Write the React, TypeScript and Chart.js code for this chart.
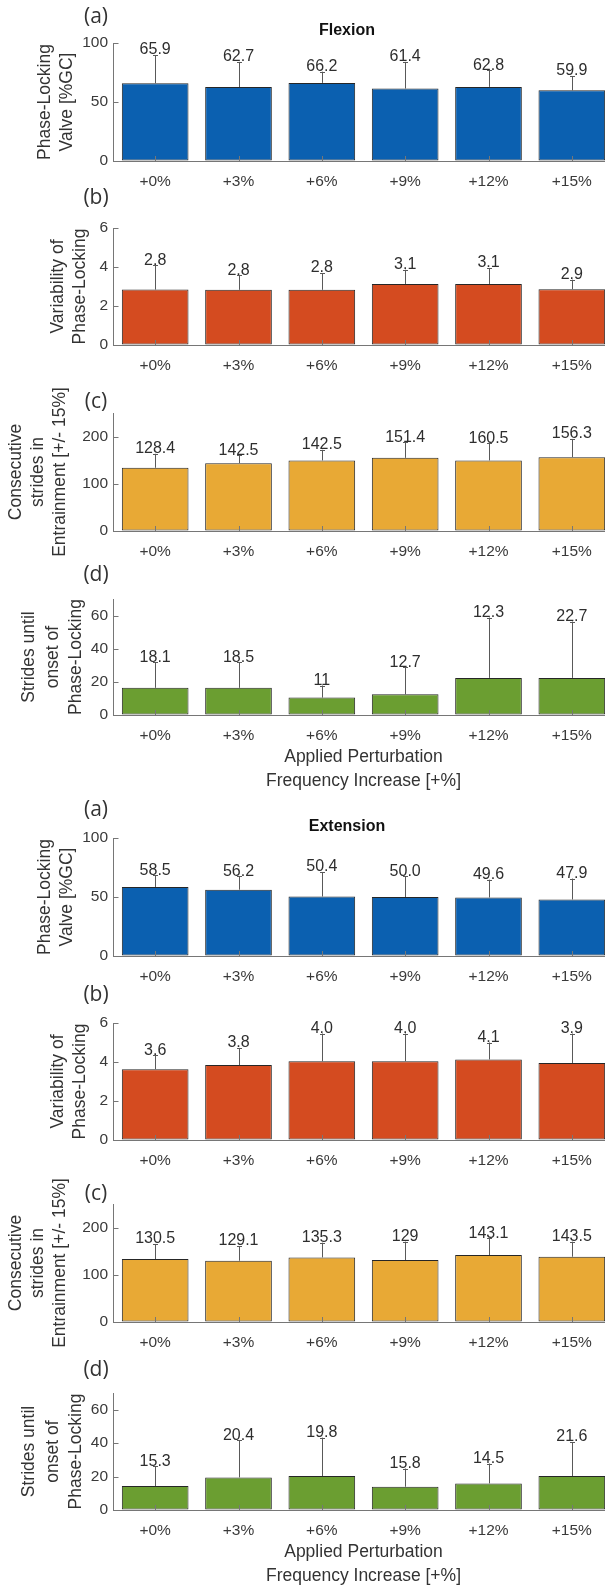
import React, { useEffect, useRef } from "react";
import { Chart, registerables } from "chart.js";

Chart.register(...registerables);

// ---------- data ----------
const categories = ["+0%", "+3%", "+6%", "+9%", "+12%", "+15%"];

// Flexion
const flexPhaseMean = [65.9, 62.7, 66.2, 61.4, 62.8, 59.9];
const flexPhaseSd = [23.9, 21.3, 9.5, 22.6, 14.2, 12.1];
const flexPhaseLabels = ["65.9", "62.7", "66.2", "61.4", "62.8", "59.9"];

const flexVarMean = [2.84, 2.83, 2.83, 3.13, 3.13, 2.86];
const flexVarSd = [1.25, 0.74, 0.86, 0.73, 0.82, 0.49];
const flexVarLabels = ["2.8", "2.8", "2.8", "3.1", "3.1", "2.9"];

const flexStridesMean = [134, 143.8, 149.5, 155, 149.5, 156.5];
const flexStridesSd = [29.5, 16.2, 22.5, 33.0, 36.5, 38.5];
const flexStridesLabels = ["128.4", "142.5", "142.5", "151.4", "160.5", "156.3"];

const flexOnsetMean = [16.4, 16.4, 10.5, 12.5, 22.4, 22.4];
const flexOnsetSd = [15.3, 15.3, 7.3, 16.2, 36.4, 34.0];
const flexOnsetLabels = ["18.1", "18.5", "11", "12.7", "12.3", "22.7"];

// Extension
const extPhaseMean = [58.5, 56.2, 50.4, 50.0, 49.6, 47.9];
const extPhaseSd = [9.9, 11.3, 20.8, 17.5, 15.1, 17.7];
const extPhaseLabels = ["58.5", "56.2", "50.4", "50.0", "49.6", "47.9"];

const extVarMean = [3.63, 3.84, 4.04, 4.04, 4.13, 3.95];
const extVarSd = [0.72, 0.88, 1.42, 1.42, 0.87, 1.51];
const extVarLabels = ["3.6", "3.8", "4.0", "4.0", "4.1", "3.9"];

const extStridesMean = [133.4, 129.8, 136.8, 131.3, 141.9, 138.3];
const extStridesSd = [31.9, 31.2, 31.2, 38.9, 35.3, 31.9];
const extStridesLabels = ["130.5", "129.1", "135.3", "129", "143.1", "143.5"];

const extOnsetMean = [14.3, 19.5, 20.3, 13.9, 15.9, 20.3];
const extOnsetSd = [11.9, 22.2, 23.0, 10.9, 11.9, 20.4];
const extOnsetLabels = ["15.3", "20.4", "19.8", "15.8", "14.5", "21.6"];

// axis tick values
const phaseTicks = [0, 50, 100];
const varTicks = [0, 2, 4, 6];
const stridesTicks = [0, 100, 200];
const onsetTicks = [0, 20, 40, 60];

// ---------- styles ----------
const BLUE = "#0B60B0";
const RED = "#D44B20";
const YELLOW = "#E8A935";
const GREEN = "#6B9E31";
const AXIS = "#767676";
const TICK_TEXT = "#3a3a3a";
const LABEL_TEXT = "#2e2e2e";
const FONT = "'Liberation Sans', Arial, Helvetica, sans-serif";

const CANVAS_W = 620;
const PLOT_LEFT = 113.5;
const PLOT_RIGHT = 613.5;
const TITLE_X = 347;
const PAD_T = 50;
const PAD_B = 85;

type Panel = {
  key: string;
  letter: string;
  letterY: number;
  title?: string;
  titleY?: number;
  yTitle: string[];
  yTitleX: number[];
  xTitle?: string[];
  mean: number[];
  sd: number[];
  labels: string[];
  color: string;
  yMax: number;
  yTicks: number[];
  axisTop: number;
  axisBottom: number;
};

const xTitleLines = ["Applied Perturbation", "Frequency Increase [+%]"];

const panels: Panel[] = [
  { key: "fa", letter: "(a)", letterY: 17.5, title: "Flexion", titleY: 31, yTitle: ["Phase-Locking", "Valve [%GC]"], yTitleX: [45, 67], mean: flexPhaseMean, sd: flexPhaseSd, labels: flexPhaseLabels, color: BLUE, yMax: 100, yTicks: phaseTicks, axisTop: 43, axisBottom: 161 },
  { key: "fb", letter: "(b)", letterY: 198, yTitle: ["Variability of", "Phase-Locking"], yTitleX: [58, 80], mean: flexVarMean, sd: flexVarSd, labels: flexVarLabels, color: RED, yMax: 6, yTicks: varTicks, axisTop: 227.7, axisBottom: 344.3 },
  { key: "fc", letter: "(c)", letterY: 402, yTitle: ["Consecutive", "strides in", "Entrainment [+/- 15%]"], yTitleX: [16, 38, 60], mean: flexStridesMean, sd: flexStridesSd, labels: flexStridesLabels, color: YELLOW, yMax: 250, yTicks: stridesTicks, axisTop: 413, axisBottom: 531 },
  { key: "fd", letter: "(d)", letterY: 575, yTitle: ["Strides until", "onset of", "Phase-Locking"], yTitleX: [29, 53, 76], xTitle: xTitleLines, mean: flexOnsetMean, sd: flexOnsetSd, labels: flexOnsetLabels, color: GREEN, yMax: 70, yTicks: onsetTicks, axisTop: 599.3, axisBottom: 715 },
  { key: "ea", letter: "(a)", letterY: 810, title: "Extension", titleY: 826, yTitle: ["Phase-Locking", "Valve [%GC]"], yTitleX: [45, 67], mean: extPhaseMean, sd: extPhaseSd, labels: extPhaseLabels, color: BLUE, yMax: 100, yTicks: phaseTicks, axisTop: 837.7, axisBottom: 955.7 },
  { key: "eb", letter: "(b)", letterY: 995, yTitle: ["Variability of", "Phase-Locking"], yTitleX: [58, 80], mean: extVarMean, sd: extVarSd, labels: extVarLabels, color: RED, yMax: 6, yTicks: varTicks, axisTop: 1022.7, axisBottom: 1140 },
  { key: "ec", letter: "(c)", letterY: 1194, yTitle: ["Consecutive", "strides in", "Entrainment [+/- 15%]"], yTitleX: [16, 38, 60], mean: extStridesMean, sd: extStridesSd, labels: extStridesLabels, color: YELLOW, yMax: 250, yTicks: stridesTicks, axisTop: 1203.5, axisBottom: 1321 },
  { key: "ed", letter: "(d)", letterY: 1370, yTitle: ["Strides until", "onset of", "Phase-Locking"], yTitleX: [29, 53, 76], xTitle: xTitleLines, mean: extOnsetMean, sd: extOnsetSd, labels: extOnsetLabels, color: GREEN, yMax: 70, yTicks: onsetTicks, axisTop: 1393.3, axisBottom: 1510 },
];

function makePlugin(p: Panel) {
  return {
    id: "panelDecor_" + p.key,
    afterDatasetsDraw(chart: any) {
      const ctx = chart.ctx as CanvasRenderingContext2D;
      const meta = chart.getDatasetMeta(0);
      const ys = chart.scales.y;
      ctx.save();
      meta.data.forEach((bar: any, i: number) => {
        const x = bar.x;
        const yb = ys.getPixelForValue(p.mean[i]);
        const yt = ys.getPixelForValue(p.mean[i] + p.sd[i]);
        ctx.strokeStyle = "#595959";
        ctx.lineWidth = 1;
        ctx.beginPath();
        ctx.moveTo(Math.round(x) + 0.5, yb);
        ctx.lineTo(Math.round(x) + 0.5, yt);
        ctx.moveTo(Math.round(x) - 2, Math.round(yt) + 0.5);
        ctx.lineTo(Math.round(x) + 3, Math.round(yt) + 0.5);
        ctx.stroke();
        ctx.fillStyle = LABEL_TEXT;
        ctx.font = `16px ${FONT}`;
        ctx.textAlign = "center";
        ctx.textBaseline = "middle";
        ctx.fillText(p.labels[i], x, yt - 5);
      });
      ctx.restore();
    },
    afterDraw(chart: any) {
      const ctx = chart.ctx as CanvasRenderingContext2D;
      const area = chart.chartArea;
      const ys = chart.scales.y;
      const xs = chart.scales.x;
      const off = p.axisTop - PAD_T; // page offset of canvas
      ctx.save();
      // inward ticks
      ctx.strokeStyle = AXIS;
      ctx.lineWidth = 1;
      ctx.beginPath();
      p.yTicks.forEach((v) => {
        const y = Math.round(ys.getPixelForValue(v)) + 0.5;
        ctx.moveTo(area.left, y);
        ctx.lineTo(area.left + 5, y);
      });
      categories.forEach((_, i) => {
        const x = Math.round(xs.getPixelForValue(i)) + 0.5;
        ctx.moveTo(x, area.bottom);
        ctx.lineTo(x, area.bottom - 5);
      });
      ctx.stroke();

      // panel letter
      ctx.fillStyle = "#333333";
      ctx.font = `21px 'Open Sans', 'Noto Sans', sans-serif`;
      ctx.textAlign = "center";
      ctx.textBaseline = "middle";
      ctx.fillText(p.letter, 96, p.letterY - off);

      // figure title
      if (p.title) {
        ctx.fillStyle = "#111111";
        ctx.font = `bold 16px ${FONT}`;
        ctx.fillText(p.title, TITLE_X, (p.titleY as number) - off);
      }

      // y title (rotated, multi-line)
      ctx.fillStyle = "#333333";
      ctx.font = `17.5px ${FONT}`;
      const cy = (area.top + area.bottom) / 2;
      p.yTitle.forEach((line, i) => {
        ctx.save();
        ctx.translate(p.yTitleX[i], cy);
        ctx.rotate(-Math.PI / 2);
        ctx.fillText(line, 0, 0);
        ctx.restore();
      });

      // x title
      if (p.xTitle) {
        const cx = (area.left + area.right) / 2;
        ctx.fillText(p.xTitle[0], cx, area.bottom + 42);
        ctx.fillText(p.xTitle[1], cx, area.bottom + 66);
      }
      ctx.restore();
    },
  };
}

function PanelChart({ p }: { p: Panel }) {
  const ref = useRef<HTMLCanvasElement | null>(null);
  const height = Math.round(p.axisBottom - p.axisTop) + PAD_T + PAD_B;
  useEffect(() => {
    if (!ref.current) return;
    const chart = new Chart(ref.current, {
      type: "bar",
      data: {
        labels: categories,
        datasets: [
          {
            data: p.mean,
            backgroundColor: p.color,
            borderColor: "#262626",
            borderWidth: 1,
            borderSkipped: false,
            barPercentage: 0.8,
            categoryPercentage: 1,
          },
        ],
      },
      options: {
        responsive: false,
        animation: false,
        devicePixelRatio: 1,
        layout: { padding: { top: PAD_T, left: 0, right: CANVAS_W - PLOT_RIGHT, bottom: 0 } },
        plugins: {
          legend: { display: false },
          tooltip: { enabled: false },
          title: { display: false },
        },
        scales: {
          x: {
            type: "category",
            offset: true,
            grid: { display: true, color: "rgba(0,0,0,0)", drawTicks: false, drawOnChartArea: false },
            border: { display: true, color: AXIS, width: 1 },
            ticks: { font: { size: 15.5, family: FONT }, color: TICK_TEXT, padding: 11, maxRotation: 0, autoSkip: false },
            afterFit: (s: any) => {
              s.height = PAD_B;
            },
          },
          y: {
            min: 0,
            max: p.yMax,
            grid: { display: true, color: "rgba(0,0,0,0)", drawTicks: false, drawOnChartArea: false },
            border: { display: true, color: AXIS, width: 1 },
            ticks: { font: { size: 15.5, family: FONT }, color: TICK_TEXT, padding: 5.5 },
            afterBuildTicks: (s: any) => {
              s.ticks = p.yTicks.map((v) => ({ value: v }));
            },
            afterFit: (s: any) => {
              s.width = PLOT_LEFT;
            },
          },
        },
      } as any,
      plugins: [makePlugin(p)],
    });
    return () => chart.destroy();
  }, []);
  return (
    <canvas
      ref={ref}
      width={CANVAS_W}
      height={height}
      style={{
        position: "absolute",
        left: 0,
        top: p.axisTop - PAD_T,
        width: CANVAS_W,
        height: height,
      }}
    />
  );
}

export default function App() {
  return (
    <div
      style={{
        position: "absolute",
        left: 0,
        top: 0,
        width: 605,
        height: 1585,
        overflow: "hidden",
        background: "#ffffff",
      }}
    >
      {panels.map((p) => (
        <PanelChart key={p.key} p={p} />
      ))}
    </div>
  );
}
